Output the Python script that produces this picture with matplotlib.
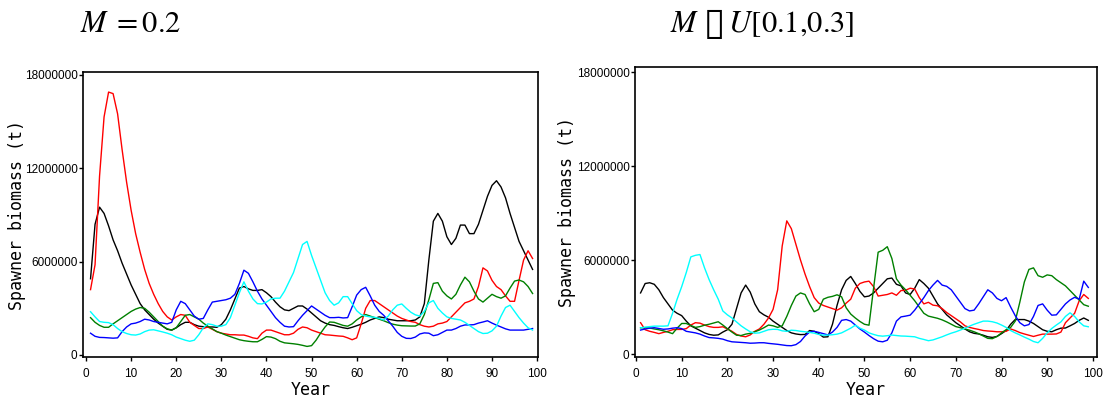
import matplotlib
matplotlib.use("Agg")
import matplotlib.pyplot as plt
import numpy as np

years = list(range(1, 100))

# ---- Left panel: M = 0.2 (values in millions of tonnes) ----
left_red = [4.2, 5.8, 11.5, 15.3, 16.9, 16.8, 15.5, 13.2, 11.1, 9.3,
            7.8, 6.6, 5.5, 4.6, 3.9, 3.3, 2.8, 2.45, 2.25, 2.45,
            2.6, 2.55, 2.1, 1.9, 1.7, 1.7, 1.8, 1.65, 1.5, 1.4,
            1.35, 1.3, 1.3, 1.28, 1.28, 1.2, 1.1, 1.05, 1.4, 1.6,
            1.6, 1.5, 1.4, 1.3, 1.3, 1.4, 1.65, 1.8, 1.75, 1.6,
            1.5, 1.4, 1.3, 1.28, 1.25, 1.22, 1.2, 1.1, 0.98, 1.1,
            2.0, 3.0, 3.5, 3.5, 3.3, 3.1, 2.9, 2.7, 2.5, 2.35,
            2.25, 2.15, 2.1, 1.95, 1.85, 1.8, 1.85, 2.0, 2.05, 2.15,
            2.45, 2.75, 3.05, 3.35, 3.45, 3.6, 4.4, 5.6, 5.4, 4.8,
            4.4, 4.2, 3.8, 3.45, 3.45, 4.8, 6.1, 6.7, 6.2]
left_black = [4.9, 8.4, 9.5, 9.1, 8.3, 7.4, 6.7, 5.9, 5.2, 4.5,
              3.9, 3.3, 2.9, 2.6, 2.3, 2.05, 1.85, 1.65, 1.6, 1.75,
              1.95, 2.1, 2.1, 1.95, 1.85, 1.82, 1.8, 1.8, 1.78, 1.95,
              2.3, 2.9, 3.6, 4.3, 4.4, 4.25, 4.15, 4.15, 4.2, 4.0,
              3.75, 3.4, 3.1, 2.9, 2.85, 3.0, 3.15, 3.15, 2.95, 2.7,
              2.45, 2.2, 2.05, 1.95, 1.9, 1.82, 1.75, 1.7, 1.78, 1.88,
              1.98, 2.1, 2.25, 2.35, 2.45, 2.4, 2.3, 2.25, 2.2, 2.2,
              2.2, 2.2, 2.25, 2.45, 3.3, 6.1, 8.6, 9.1, 8.6, 7.6,
              7.1, 7.5, 8.35, 8.35, 7.8, 7.8, 8.4, 9.3, 10.2, 10.9,
              11.2, 10.8, 10.1, 9.1, 8.2, 7.3, 6.7, 6.1, 5.5]
left_blue = [1.4, 1.2, 1.13, 1.12, 1.1, 1.08, 1.1, 1.5, 1.8, 2.0,
             2.05, 2.15, 2.3, 2.25, 2.15, 2.1, 2.05, 2.0, 2.1, 2.9,
             3.45, 3.3, 2.9, 2.5, 2.3, 2.35, 2.9, 3.4, 3.45, 3.5,
             3.55, 3.65, 3.9, 4.6, 5.45, 5.25, 4.7, 4.1, 3.6, 3.2,
             2.8, 2.4, 2.1, 1.85, 1.8, 1.82, 2.2, 2.55, 2.85, 3.15,
             2.95, 2.75, 2.55, 2.4, 2.4, 2.42, 2.38, 2.4, 3.1, 3.85,
             4.2, 4.35, 3.8, 3.2, 2.8, 2.55, 2.2, 1.85, 1.45, 1.2,
             1.07, 1.06, 1.15, 1.35, 1.42, 1.4, 1.24, 1.3, 1.45, 1.6,
             1.6, 1.7, 1.85, 1.93, 1.93, 1.95, 2.05, 2.12, 2.2, 2.05,
             1.92, 1.8, 1.68, 1.6, 1.6, 1.6, 1.6, 1.65, 1.7]
left_cyan = [2.78, 2.45, 2.15, 2.1, 2.08, 1.95, 1.7, 1.5, 1.38, 1.3,
             1.28, 1.35, 1.5, 1.6, 1.62, 1.55, 1.48, 1.4, 1.3, 1.15,
             1.05, 0.95, 0.88, 0.95, 1.3, 1.75, 2.0, 1.95, 1.85, 1.85,
             1.95, 2.4, 3.2, 4.0, 4.7, 4.1, 3.6, 3.3, 3.28, 3.4,
             3.6, 3.65, 3.65, 4.1, 4.7, 5.3, 6.2, 7.1, 7.3, 6.4,
             5.6, 4.8, 4.0, 3.5, 3.2, 3.35, 3.75, 3.75, 3.3, 2.85,
             2.6, 2.5, 2.45, 2.42, 2.35, 2.25, 2.5, 2.9, 3.2, 3.28,
             3.0, 2.75, 2.58, 2.5, 2.8, 3.35, 3.5, 3.0, 2.7, 2.45,
             2.35, 2.3, 2.25, 2.1, 1.9, 1.7, 1.5, 1.38, 1.4, 1.55,
             1.85, 2.5, 3.05, 3.2, 2.8, 2.4, 2.05, 1.75, 1.6]
left_green = [2.4, 2.1, 1.9, 1.78, 1.78, 2.0, 2.2, 2.4, 2.6, 2.8,
              2.95, 3.05, 3.0, 2.75, 2.45, 2.15, 1.85, 1.68, 1.6, 1.75,
              2.15, 2.55, 2.6, 2.45, 2.3, 2.05, 1.85, 1.68, 1.5, 1.4,
              1.28, 1.18, 1.08, 0.98, 0.92, 0.88, 0.85, 0.85, 1.0, 1.18,
              1.15, 1.05, 0.88, 0.78, 0.75, 0.72, 0.68, 0.62, 0.55, 0.6,
              0.95, 1.4, 1.8, 2.12, 2.1, 2.0, 1.9, 1.85, 2.0, 2.25,
              2.45, 2.6, 2.5, 2.4, 2.3, 2.2, 2.08, 1.98, 1.92, 1.88,
              1.87, 1.86, 1.86, 2.0, 2.6, 3.55, 4.6, 4.65, 4.1, 3.8,
              3.6, 3.9, 4.5, 5.0, 4.7, 4.1, 3.6, 3.4, 3.65, 3.9,
              3.75, 3.65, 3.8, 4.3, 4.75, 4.82, 4.7, 4.4, 3.95]

# ---- Right panel: M ~ U[0.1, 0.3] ----
right_black = [3.9, 4.5, 4.55, 4.45, 4.1, 3.6, 3.2, 2.8, 2.6, 2.45,
               2.1, 1.8, 1.65, 1.5, 1.35, 1.25, 1.2, 1.22, 1.4, 1.55,
               1.9, 2.9, 3.9, 4.4, 3.95, 3.2, 2.7, 2.5, 2.35, 2.1,
               1.9, 1.7, 1.5, 1.35, 1.28, 1.24, 1.25, 1.5, 1.45, 1.3,
               1.08, 1.1, 1.9, 3.1, 4.1, 4.7, 4.95, 4.5, 4.0, 3.65,
               3.7, 3.9, 4.2, 4.5, 4.8, 4.85, 4.45, 4.35, 3.9, 3.8,
               4.2, 4.75, 4.5, 4.2, 3.7, 3.2, 2.85, 2.5, 2.25, 2.0,
               1.8, 1.6, 1.42, 1.32, 1.28, 1.2, 1.1, 1.06, 1.12, 1.3,
               1.5, 1.9, 2.2, 2.2, 2.2, 2.1, 1.95, 1.75, 1.55, 1.45,
               1.42, 1.55, 1.65, 1.66, 1.8, 1.95, 2.15, 2.3, 2.15]
right_red = [2.0, 1.55, 1.45, 1.38, 1.3, 1.38, 1.45, 1.55, 1.57, 1.57,
             1.62, 1.85, 2.0, 1.97, 1.85, 1.75, 1.7, 1.7, 1.74, 1.6,
             1.45, 1.25, 1.15, 1.1, 1.22, 1.45, 1.6, 1.9, 2.3, 2.85,
             4.1, 6.9, 8.5, 8.0, 7.0, 6.0, 5.1, 4.3, 3.6, 3.25,
             3.1, 3.0, 2.9, 2.8, 2.95, 3.25, 3.5, 4.2, 4.5, 4.6,
             4.65, 4.3, 3.7, 3.75, 3.8, 3.9, 3.75, 4.05, 4.07, 4.2,
             4.15, 3.6, 3.2, 3.3, 3.12, 3.08, 2.9, 2.65, 2.45, 2.25,
             2.05, 1.8, 1.7, 1.63, 1.57, 1.5, 1.47, 1.45, 1.42, 1.42,
             1.45, 1.6, 1.5, 1.37, 1.28, 1.2, 1.12, 1.2, 1.27, 1.27,
             1.27, 1.28, 1.4, 2.0, 2.3, 2.6, 3.4, 3.8, 3.55]
right_blue = [1.53, 1.6, 1.65, 1.68, 1.63, 1.58, 1.6, 1.65, 1.68, 1.62,
              1.45, 1.4, 1.35, 1.27, 1.15, 1.05, 1.03, 1.0, 0.95, 0.85,
              0.78, 0.76, 0.74, 0.72, 0.69, 0.7, 0.72, 0.72, 0.68, 0.65,
              0.62, 0.58, 0.54, 0.53, 0.6, 0.8, 1.15, 1.4, 1.45, 1.38,
              1.3, 1.22, 1.4, 1.7, 2.15, 2.2, 2.1, 1.85, 1.6, 1.4,
              1.18, 0.98, 0.82, 0.78, 0.88, 1.35, 2.1, 2.37, 2.42, 2.48,
              2.8, 3.2, 3.6, 4.05, 4.4, 4.7, 4.4, 4.32, 4.1, 3.7,
              3.3, 2.9, 2.75, 2.8, 3.2, 3.65, 4.1, 3.9, 3.55, 3.4,
              3.6, 3.0, 2.45, 2.0, 1.8, 1.88, 2.4, 3.1, 3.2, 2.8,
              2.48, 2.5, 2.85, 3.2, 3.45, 3.62, 3.5, 4.65, 4.25]
right_cyan = [1.67, 1.72, 1.75, 1.78, 1.78, 1.78, 1.8, 2.6, 3.5, 4.3,
              5.2, 6.2, 6.3, 6.35, 5.5, 4.75, 4.1, 3.5, 2.75, 2.5,
              2.3, 2.05, 1.8, 1.6, 1.42, 1.33, 1.35, 1.45, 1.55, 1.58,
              1.57, 1.48, 1.45, 1.52, 1.5, 1.45, 1.42, 1.38, 1.33, 1.25,
              1.2, 1.21, 1.23, 1.27, 1.35, 1.5, 1.65, 1.84, 1.65, 1.53,
              1.35, 1.25, 1.17, 1.14, 1.17, 1.21, 1.18, 1.15, 1.14, 1.12,
              1.1, 1.0, 0.93, 0.85, 0.9, 1.0, 1.1, 1.22, 1.33, 1.42,
              1.53, 1.65, 1.78, 1.9, 2.0, 2.1, 2.1, 2.06, 1.98, 1.85,
              1.7, 1.5, 1.35, 1.22, 1.08, 0.95, 0.8, 0.72, 1.0, 1.35,
              1.63, 1.85, 2.05, 2.4, 2.63, 2.4, 2.05, 1.8, 1.74]
right_green = [1.67, 1.68, 1.66, 1.6, 1.55, 1.48, 1.4, 1.3, 1.65, 1.95,
               1.95, 1.82, 1.7, 1.75, 1.84, 1.9, 1.98, 2.06, 1.85, 1.62,
               1.4, 1.2, 1.18, 1.27, 1.32, 1.42, 1.53, 1.68, 1.85, 1.8,
               1.7, 1.8, 2.4, 3.1, 3.7, 3.9, 3.8, 3.2, 2.7, 2.85,
               3.5, 3.62, 3.68, 3.78, 3.65, 2.95, 2.55, 2.3, 2.08, 1.9,
               1.84, 4.2, 6.5, 6.62, 6.85, 6.1, 4.8, 4.4, 4.1, 3.75,
               3.4, 3.0, 2.6, 2.42, 2.35, 2.28, 2.18, 2.05, 1.9, 1.75,
               1.68, 1.6, 1.52, 1.42, 1.3, 1.15, 1.0, 0.98, 1.12, 1.35,
               1.55, 1.7, 2.1, 3.3, 4.6, 5.4, 5.5, 5.0, 4.9, 5.05,
               5.0, 4.75, 4.55, 4.35, 4.05, 3.75, 3.45, 3.15, 3.05]

x_ticks = [0, 10, 20, 30, 40, 50, 60, 70, 80, 90, 100]
y_ticks = [0, 6000000, 12000000, 18000000]
y_ticklabels = ["0", "6000000", "12000000", "18000000"]

left_title = r"$M\;=0.2$"
right_title = "$M\\;\\,\u25AF\\;U[0.1{,}0.3]$"
ylabel = "Spawner biomass (t)"
xlabel = "Year"

plt.rcParams["mathtext.fontset"] = "stix"

W, H = 1106, 400
fig = plt.figure(figsize=(W / 100, H / 100), dpi=100)


def px_axes(x0, x1, ytop, ybot):
    return [x0 / W, 1 - ybot / H, (x1 - x0) / W, (ybot - ytop) / H]


tick_font = dict(family=["Liberation Sans", "DejaVu Sans"], size=8.5)
label_font = dict(family=["DejaVu Sans Mono"], size=12)

panels = [
    ((83, 538, 72, 357), (-0.67, 100.2), (-0.13e6, 18.19e6),
     [("black", left_black), ("red", left_red), ("#008000", left_green),
      ("blue", left_blue), ("cyan", left_cyan)], left_title, 131, 17),
    ((635, 1097, 67, 357), (-0.22, 100.9), (-0.19e6, 18.32e6),
     [("black", right_black), ("red", right_red), ("#008000", right_green),
      ("blue", right_blue), ("cyan", right_cyan)], right_title, 762, 567),
]

for box, xl, yl, series, title, tx, ylab_x in panels:
    x0, x1, ytop, ybot = box
    ax = fig.add_axes(px_axes(*box))
    for color, vals in series:
        ax.plot(years, np.array(vals) * 1e6, color=color, lw=1.0)
    ax.set_xlim(*xl)
    ax.set_ylim(*yl)
    ax.set_xticks(x_ticks)
    ax.set_xticklabels([str(t) for t in x_ticks], fontdict=tick_font)
    ax.set_yticks(y_ticks)
    ax.set_yticklabels(y_ticklabels, fontdict=tick_font)
    ax.tick_params(direction="out", length=3, width=1, pad=1, colors="black")
    ax.tick_params(axis="x", pad=5)
    for s in ax.spines.values():
        s.set_linewidth(1.2)
        s.set_color("black")
    ax.set_ylabel(ylabel, fontdict=label_font, va="center")
    ax.yaxis.set_label_coords((ylab_x - x0) / (x1 - x0), 0.5)
    ax.set_xlabel(xlabel, fontdict=label_font, va="top")
    ax.xaxis.set_label_coords(0.5, -(381 - ybot) / (ybot - ytop))
    fig.text(tx / W, 1 - 32 / H, title, ha="center", va="baseline",
             fontsize=22, color="black")

fig.savefig("out.png", dpi=100, facecolor="white")
